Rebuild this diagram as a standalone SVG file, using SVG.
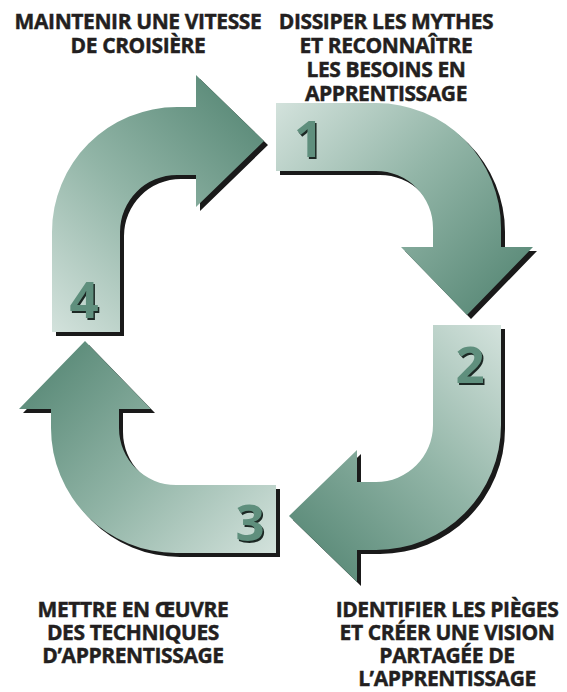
<svg xmlns="http://www.w3.org/2000/svg" xmlns:xlink="http://www.w3.org/1999/xlink" width="567" height="692" viewBox="0 0 567 692">
<style>
.lbl{font-family:"Open Sans","Noto Sans","DejaVu Sans",sans-serif;font-weight:700;font-size:21px;letter-spacing:-0.4px;fill:#231f20;stroke:#231f20;stroke-width:0.45px;text-anchor:middle}
.num{font-family:"Open Sans","Noto Sans","DejaVu Sans",sans-serif;font-weight:700;font-size:51px;text-anchor:middle}
.numsh{fill:#1c2824}
.numfg{fill:#5f8f7d}
.shadow{fill:#1a1a1a}
.arrow{fill:url(#grad)}
</style>
<defs>
<linearGradient id="grad" gradientUnits="userSpaceOnUse" x1="0" y1="-225" x2="215" y2="-15">
<stop offset="0" stop-color="#d3e2dc"/>
<stop offset="0.5" stop-color="#92b5a7"/>
<stop offset="1" stop-color="#5a8a78"/>
</linearGradient>
<path id="arrowShape" d="M0,-225 L100,-225 A125,125 0 0 1 225,-100 L225,-81 L257,-81 L191,-13 L125,-81 L157,-81 L157,-100 A57,57 0 0 0 100,-157 L0,-157 Z"/>
</defs>
<g id="connectors"/>
<g id="step1">
<use xlink:href="#arrowShape" class="shadow" transform="translate(280,332)"/>
<use xlink:href="#arrowShape" class="arrow" transform="translate(276,328)"/>
<text class="num numsh" x="310" y="158.5">1</text>
<text class="num numfg" x="308.5" y="157">1</text>
</g>
<g id="step2">
<use xlink:href="#arrowShape" class="shadow" transform="translate(280,329) rotate(90)"/>
<use xlink:href="#arrowShape" class="arrow" transform="translate(276,325) rotate(90)"/>
<text class="num numsh" x="471.5" y="384.5">2</text>
<text class="num numfg" x="470" y="383">2</text>
</g>
<g id="step3">
<use xlink:href="#arrowShape" class="shadow" transform="translate(280,332) rotate(180)"/>
<use xlink:href="#arrowShape" class="arrow" transform="translate(276,328) rotate(180)"/>
<text class="num numsh" x="251.5" y="542.5">3</text>
<text class="num numfg" x="250" y="541">3</text>
</g>
<g id="step4">
<use xlink:href="#arrowShape" class="shadow" transform="translate(281,336) rotate(270)"/>
<use xlink:href="#arrowShape" class="arrow" transform="translate(277,332) rotate(270)"/>
<text class="num numsh" x="85.5" y="319.5">4</text>
<text class="num numfg" x="84" y="318">4</text>
</g>
<g id="label4">
<text class="lbl"><tspan x="138" y="29">MAINTENIR UNE VITESSE</tspan><tspan x="138" y="53">DE CROISIÈRE</tspan></text>
</g>
<g id="label1">
<text class="lbl"><tspan x="386" y="29">DISSIPER LES MYTHES</tspan><tspan x="386" y="53">ET RECONNAÎTRE</tspan><tspan x="386" y="77">LES BESOINS EN</tspan><tspan x="386" y="101">APPRENTISSAGE</tspan></text>
</g>
<g id="label3">
<text class="lbl"><tspan x="133" y="617">METTRE EN ŒUVRE</tspan><tspan x="133" y="640">DES TECHNIQUES</tspan><tspan x="133" y="663">D’APPRENTISSAGE</tspan></text>
</g>
<g id="label2">
<text class="lbl"><tspan x="447" y="617">IDENTIFIER LES PIÈGES</tspan><tspan x="447" y="640">ET CRÉER UNE VISION</tspan><tspan x="447" y="663">PARTAGÉE DE</tspan><tspan x="447" y="686">L’APPRENTISSAGE</tspan></text>
</g>
</svg>
